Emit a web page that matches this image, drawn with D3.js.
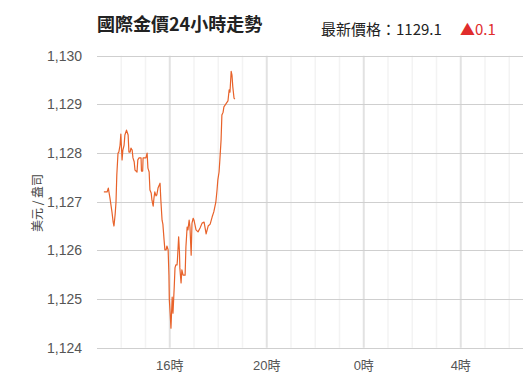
<!DOCTYPE html>
<html lang="zh-Hant">
<head>
<meta charset="UTF-8">
<title>國際金價24小時走勢</title>
<script src="https://d3js.org/d3.v7.min.js"></script>
<style>
  body { margin: 0; background: #fff; }
  svg { display: block; }
</style>
</head>
<body>
<div id="chart"></div>
<script>
// price samples (time of day, USD/oz)
const times = ["13:17","13:25","13:28","13:32","13:37","13:40","13:42","13:45","13:47","13:49",
  "13:52","13:54","13:57","13:59","14:02","14:04","14:07","14:09","14:13","14:17",
  "14:19","14:22","14:24","14:27","14:29","14:32","14:34","14:39","14:41","14:44",
  "14:49","14:50","14:53","14:54","15:01","15:04","15:06","15:09","15:11","15:14",
  "15:16","15:19","15:21","15:23","15:26","15:28","15:31","15:36","15:38","15:41",
  "15:43","15:46","15:48","15:51","15:53","15:56","15:58","15:59","16:01","16:03",
  "16:06","16:08","16:11","16:13","16:15","16:18","16:19","16:22","16:24","16:25",
  "16:28","16:30","16:33","16:38","16:40","16:43","16:45","16:48","16:50","16:53",
  "16:55","16:58","17:00","17:05","17:10","17:15","17:20","17:25","17:30","17:35",
  "17:40","17:45","17:49","17:54","17:57","17:59","18:02","18:04","18:07","18:09",
  "18:12","18:14","18:19","18:24","18:27","18:29","18:32","18:34","18:36","18:39","18:41"];
const prices = [1127.20,1127.20,1127.28,1127.08,1126.79,1126.58,1126.50,1126.75,1126.99,1127.55,
  1128.00,1128.02,1128.16,1128.39,1127.86,1128.06,1128.16,1128.37,1128.47,1128.37,
  1128.02,1128.02,1128.10,1128.06,1127.90,1127.82,1127.65,1127.61,1127.86,1127.90,
  1127.90,1127.63,1127.63,1127.90,1127.90,1128.00,1127.69,1127.61,1127.24,1127.18,
  1127.03,1126.91,1127.08,1127.20,1127.12,1127.14,1127.28,1127.38,1127.03,1126.62,
  1126.54,1126.21,1126.01,1126.01,1126.09,1126.01,1125.49,1124.98,1124.71,1124.40,
  1125.04,1124.71,1125.23,1125.64,1125.70,1125.70,1125.80,1126.28,1125.97,1125.64,
  1125.33,1125.60,1125.49,1125.49,1126.07,1126.48,1126.42,1126.62,1126.48,1125.90,
  1126.56,1126.66,1126.62,1126.42,1126.38,1126.46,1126.56,1126.58,1126.34,1126.50,
  1126.54,1126.69,1126.79,1126.99,1127.24,1127.45,1127.61,1127.86,1128.27,1128.78,
  1128.84,1128.95,1129.01,1129.07,1129.30,1129.25,1129.68,1129.60,1129.36,1129.13,1129.11];
const yTicks = [1124, 1125, 1126, 1127, 1128, 1129, 1130];
const xTickHours = [16, 20, 0, 4];
const title = "國際金價24小時走勢";
const latestLabel = "最新價格：1129.1";
const changeLabel = "▲0.1";
const yTitle = "美元 / 盎司";

const width = 525, height = 386;
const plotLeft = 97, plotTop = 55.7, plotBottom = 347.7, plotRight = 523;
const hourPx = 24.25;

const parse = d3.timeParse("%Y-%m-%d %H:%M");
const start = parse("2024-01-01 13:00");
const end = d3.timeHour.offset(start, 24);
const data = times.map((t, i) => ({ t: parse("2024-01-01 " + t), v: prices[i] }));

const x = d3.scaleTime().domain([start, end]).range([plotLeft, plotLeft + 24 * hourPx]);
const y = d3.scaleLinear().domain([1124, 1130]).range([plotBottom, plotTop]);

const svg = d3.select("#chart").append("svg")
    .attr("width", width)
    .attr("height", height);

// hourly grid, heavier every 4 hours
const hours = d3.timeHour.range(start, end);
svg.append("g").selectAll("line")
    .data(hours.filter(h => x(h) > plotLeft && x(h) <= plotRight))
    .enter().append("line")
    .attr("x1", d => x(d)).attr("x2", d => x(d))
    .attr("y1", plotTop).attr("y2", plotBottom)
    .attr("stroke", d => d.getHours() % 4 === 0 ? "#e2e2e2" : "#f3f3f3")
    .attr("stroke-width", d => d.getHours() % 4 === 0 ? 2 : 1.5);

// horizontal grid
svg.append("g").selectAll("line")
    .data(yTicks)
    .enter().append("line")
    .attr("x1", plotLeft).attr("x2", plotRight)
    .attr("y1", d => Math.round(y(d)) + 0.5).attr("y2", d => Math.round(y(d)) + 0.5)
    .attr("stroke", "#cfcfcf")
    .attr("stroke-width", 1.2);

// y labels
svg.append("g").selectAll("text")
    .data(yTicks)
    .enter().append("text")
    .attr("x", 82)
    .attr("y", d => y(d) + 5)
    .attr("text-anchor", "end")
    .attr("font-family", "Liberation Sans, Arial, sans-serif")
    .attr("font-size", 14)
    .attr("fill", "#555")
    .text(d => d3.format(",")(d));

// x labels
const xTickDates = xTickHours.map(h => d3.timeHour.offset(start, (h - 13 + 24) % 24));
svg.append("g").selectAll("text")
    .data(xTickDates)
    .enter().append("text")
    .attr("x", d => x(d))
    .attr("y", 370)
    .attr("text-anchor", "middle")
    .attr("font-family", "Liberation Sans, 'Noto Sans CJK TC', sans-serif")
    .attr("font-size", 13)
    .attr("fill", "#555")
    .text((d, i) => xTickHours[i] + "時");

// price line
const line = d3.line().x(d => x(d.t)).y(d => y(d.v));
svg.append("path")
    .datum(data)
    .attr("d", line)
    .attr("fill", "none")
    .attr("stroke", "#e8622a")
    .attr("stroke-width", 1.2)
    .attr("stroke-linejoin", "round");

// titles
svg.append("text")
    .attr("x", 97).attr("y", 31)
    .attr("font-family", "'Noto Sans CJK TC', sans-serif")
    .attr("font-weight", "bold")
    .attr("font-size", 18)
    .attr("fill", "#222")
    .text(title);

svg.append("text")
    .attr("x", 321).attr("y", 35)
    .attr("font-family", "'Noto Sans CJK TC', sans-serif")
    .attr("font-size", 15)
    .attr("fill", "#222")
    .text(latestLabel);

svg.append("text")
    .attr("x", 460).attr("y", 35)
    .attr("font-family", "'Noto Sans CJK TC', sans-serif")
    .attr("font-size", 15)
    .attr("fill", "#e02c2c")
    .text(changeLabel);

svg.append("text")
    .attr("transform", "translate(42," + 203 + ") rotate(-90)")
    .attr("text-anchor", "middle")
    .attr("font-family", "'Noto Sans CJK TC', sans-serif")
    .attr("font-size", 12)
    .attr("fill", "#444")
    .text(yTitle);
</script>
</body>
</html>
